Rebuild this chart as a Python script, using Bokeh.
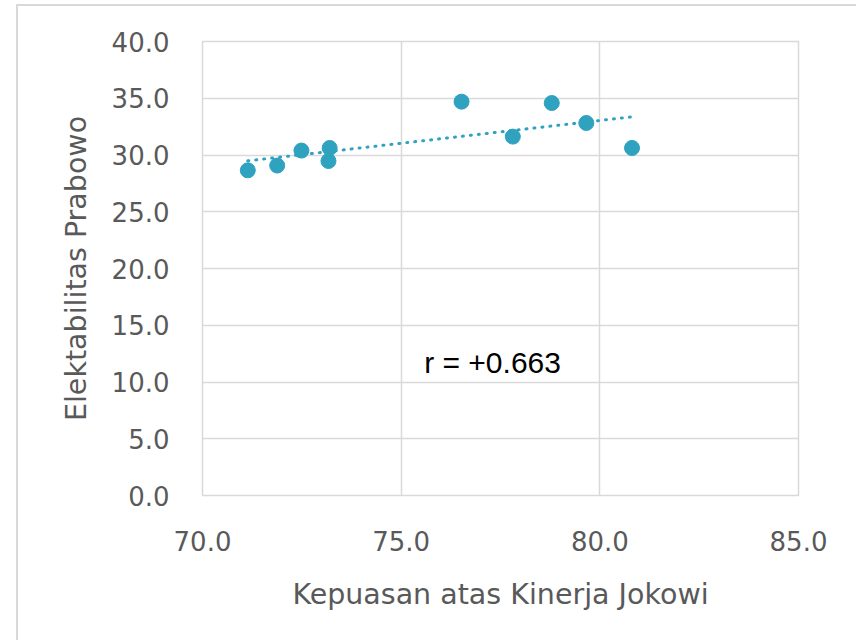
import numpy as np
from bokeh.plotting import figure
from bokeh.models import FixedTicker, PrintfTickFormatter, Range1d, Label
from bokeh.embed import file_html
from bokeh.resources import INLINE

# Data
kepuasan = [71.14, 71.88, 72.49, 73.20, 73.17, 76.52, 77.81, 78.79, 79.66, 80.81]
elektabilitas = [28.65, 29.07, 30.39, 30.62, 29.47, 34.70, 31.62, 34.58, 32.82, 30.62]
x_ticks = [70, 75, 80, 85]
y_ticks = [0, 5, 10, 15, 20, 25, 30, 35, 40]
r_text = "r = +0.663"

TEXT = "#595959"
GRID = "#d9d9d9"
DOT = "#2EA2BF"
FONT = "DejaVu Sans"

p = figure(width=838, height=634, output_backend="svg", toolbar_location=None,
           x_range=Range1d(70, 85), y_range=Range1d(0, 40),
           frame_width=596, frame_height=454,
           min_border_left=184, min_border_top=35, min_border_right=58, min_border_bottom=145)
p.margin = (4, 0, 0, 16)
p.styles = {"border-left": "2px solid #d9d9d9", "border-top": "2px solid #d9d9d9"}
p.background_fill_color = "white"
p.border_fill_color = "white"
p.outline_line_color = GRID
p.outline_line_width = 1.5

for ax in (p.xaxis[0], p.yaxis[0]):
    ax.axis_line_color = None
    ax.major_tick_line_color = None
    ax.minor_tick_line_color = None
    ax.major_tick_out = 0
    ax.major_tick_in = 0
    ax.major_label_text_font = FONT
    ax.major_label_text_font_size = "26px"
    ax.major_label_text_color = TEXT
    ax.axis_label_text_font = FONT
    ax.axis_label_text_font_size = "28.5px"
    ax.axis_label_text_font_style = "normal"
    ax.axis_label_text_color = TEXT
    ax.formatter = PrintfTickFormatter(format="%.1f")

p.xaxis[0].ticker = FixedTicker(ticks=x_ticks)
p.yaxis[0].ticker = FixedTicker(ticks=y_ticks)
p.xaxis[0].axis_label = "Kepuasan atas Kinerja Jokowi"
p.yaxis[0].axis_label = "Elektabilitas Prabowo"
p.xaxis[0].major_label_standoff = 35
p.yaxis[0].major_label_standoff = 33
p.xaxis[0].axis_label_standoff = 24
p.yaxis[0].axis_label_standoff = 16

p.xgrid.grid_line_color = GRID
p.ygrid.grid_line_color = GRID
p.xgrid.grid_line_width = 1.5
p.ygrid.grid_line_width = 1.5
p.xgrid.ticker = FixedTicker(ticks=x_ticks)
p.ygrid.ticker = FixedTicker(ticks=y_ticks)

# linear trendline (least squares)
xs = np.array(kepuasan)
ys = np.array(elektabilitas)
slope, intercept = np.polyfit(xs, ys, 1)
tx = [xs.min(), xs.max()]
ty = [slope * v + intercept for v in tx]
p.line(tx, ty, line_color=DOT, line_width=3, line_dash="1 7", line_cap="round")

p.scatter(kepuasan, elektabilitas, size=15, fill_color=DOT, line_color=DOT)

p.add_layout(Label(x=77.3, y=11.75, text=r_text, text_font="Liberation Sans",
                   text_font_size="30px", text_color="black",
                   text_align="center", text_baseline="middle"))

open("out.html", "w").write(file_html(p, INLINE))
